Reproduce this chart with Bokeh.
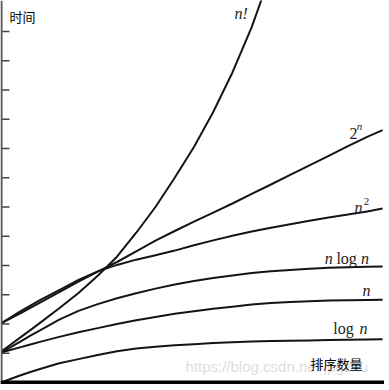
from bokeh.plotting import figure
from bokeh.models import Range1d, Span
from bokeh.core.properties import value
from bokeh.embed import file_html
from bokeh.resources import INLINE

# ---- data (x = sort count, y = time in tick units) ----
xs = [0, 0.25, 0.5, 0.75, 1, 1.5, 2, 2.5, 3, 3.5, 4, 4.5, 5, 5.5, 6, 6.5, 7, 7.5, 8, 8.5, 9, 9.5, 9.9]
log_n = [0, 0.13, 0.25, 0.36, 0.46, 0.66, 0.80, 0.94, 1.07, 1.16, 1.22, 1.27, 1.31, 1.35, 1.38,
         1.40, 1.42, 1.43, 1.44, 1.45, 1.46, 1.47, 1.48]
n_lin = [1.03, 1.12, 1.21, 1.30, 1.39, 1.56, 1.72, 1.86, 2.00, 2.13, 2.24, 2.35, 2.44, 2.52, 2.59,
         2.67, 2.72, 2.75, 2.78, 2.80, 2.81, 2.82, 2.83]
n_log_n = [1.03, 1.22, 1.41, 1.60, 1.78, 2.15, 2.45, 2.68, 2.88, 3.05, 3.21, 3.35, 3.47, 3.57, 3.66,
           3.74, 3.80, 3.85, 3.89, 3.92, 3.94, 3.96, 3.97]
n_sq = [2.03, 2.24, 2.44, 2.63, 2.82, 3.16, 3.51, 3.80, 4.02, 4.20, 4.35, 4.51, 4.69, 4.86, 5.02,
        5.16, 5.29, 5.41, 5.53, 5.64, 5.74, 5.85, 5.95]
two_n = [2.03, 2.20, 2.37, 2.55, 2.73, 3.09, 3.45, 3.79, 4.12, 4.48, 4.85, 5.18, 5.50, 5.81, 6.12,
         6.45, 6.77, 7.10, 7.42, 7.75, 8.08, 8.40, 8.63]
xs_fact = [0, 0.25, 0.5, 0.75, 1, 1.5, 2, 2.5, 3, 3.5, 4, 4.5, 5, 5.5, 6, 6.5, 7]
fact = [1.07, 1.31, 1.55, 1.79, 2.04, 2.54, 3.06, 3.65, 4.30, 5.12, 6.00, 7.00, 8.05, 9.25, 10.60,
        12.15, 14.0]
y_ticks = [1, 2, 3, 4, 5, 6, 7, 8, 9, 10, 11, 12]

y_title = "时间"
x_title = "排序数量"
watermark = "https://blog.csdn.net/jpgzhu"

p = figure(width=384, height=384, x_range=Range1d(-0.026, 9.95), y_range=Range1d(-0.068, 13.06),
           output_backend="svg", toolbar_location=None, min_border=0,
           background_fill_color="white", border_fill_color="white")
p.outline_line_color = None
p.xgrid.visible = False
p.ygrid.visible = False
p.xaxis.visible = False
p.yaxis.visible = False

# axes drawn as spans at the origin
p.add_layout(Span(location=0, dimension="height", line_color="#555555", line_width=2))
p.add_layout(Span(location=0, dimension="width", line_color="black", line_width=4))

# inward tick marks on the time axis
p.ray(x=[0] * len(y_ticks), y=y_ticks, length=8, angle=0,
      length_units="screen", line_color="#444444", line_width=1.5)

# watermark (behind)
p.text(x=[4.78], y=[0.55], text=[watermark], text_font=value("Liberation Sans"),
       text_font_size="15px", text_color="#dedede", text_baseline="middle", text_align="left")

lc = "#141414"
lw = 2
for ys in (log_n, n_lin, n_log_n, n_sq, two_n):
    p.line(xs, ys, line_color=lc, line_width=lw, line_join="round")
p.line(xs_fact, fact, line_color=lc, line_width=lw, line_join="round")

serif = value("Liberation Serif")

def lab(x, y, t, style="normal", size="16px"):
    p.text(x=[x], y=[y], text=[t], text_font=serif, text_font_style=style,
           text_font_size=size, text_color="#222222", text_baseline="alphabetic",
           text_align="left")

lab(6.05, 12.61, "n!", "italic")
lab(9.04, 8.52, "2")
lab(9.23, 8.78, "n", "italic", "11px")
lab(9.17, 5.98, "n", "italic")
lab(9.41, 6.18, "2", "normal", "11px")
lab(8.40, 4.23, "n", "italic")
lab(8.70, 4.23, "log")
lab(9.34, 4.23, "n", "italic")
lab(9.38, 3.13, "n", "italic")
lab(8.62, 1.86, "log")
lab(9.30, 1.86, "n", "italic")

cjk = value("Noto Sans CJK SC")
p.text(x=[8.03], y=[0.65], text=[x_title], text_font=cjk, text_font_size="13px",
       text_color="black", text_baseline="middle", text_align="left")
p.text(x=[0.21], y=[12.51], text=[y_title], text_font=cjk, text_font_size="13px",
       text_color="black", text_baseline="middle", text_align="left")

open("out.html", "w").write(file_html(p, INLINE))
